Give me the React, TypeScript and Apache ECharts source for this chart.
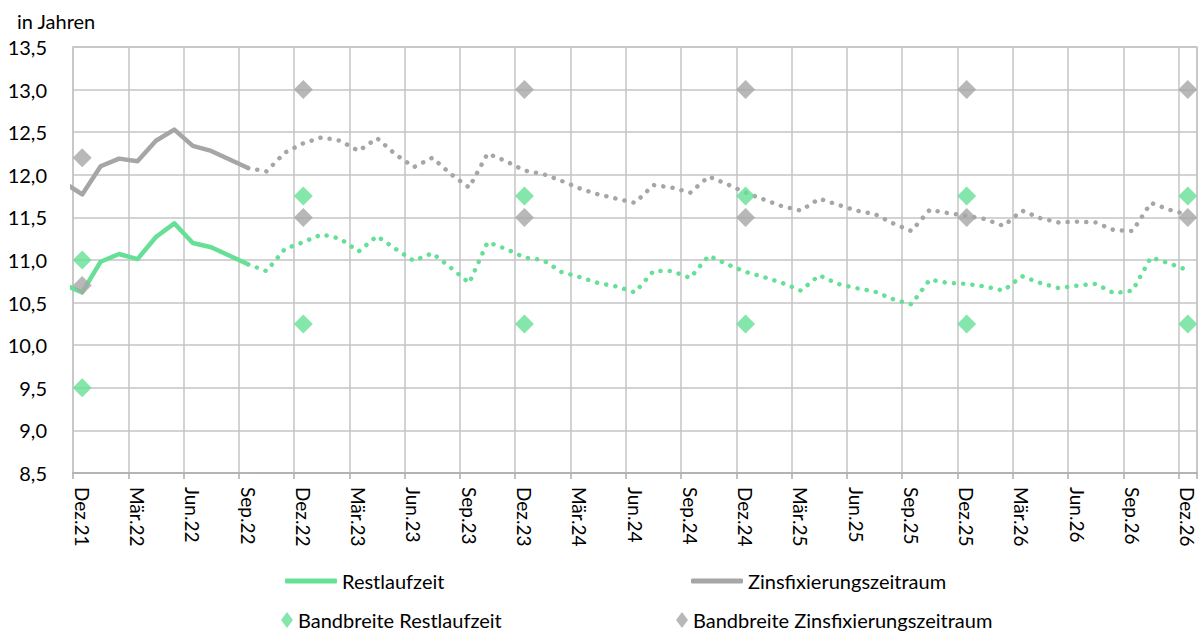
import React, { useEffect, useRef } from "react";
import * as echarts from "echarts";

// Month names used to build the category labels (Dez.21 … Dez.26)
const monthNames = ["Jan", "Feb", "Mär", "Apr", "Mai", "Jun", "Jul", "Aug", "Sep", "Okt", "Nov", "Dez"];
const startYear = 21;
const startMonth = 11; // Dez
const monthCount = 61;

// Restlaufzeit, actual: Nov.21 … Sep.22 (month index -1 … 9)
const restActual = [10.71, 10.62, 10.98, 11.07, 11.01, 11.27, 11.43, 11.2, 11.15, 11.05, 10.95];
// Restlaufzeit, projection: Sep.22 … Dez.26 (month index 9 … 60)
const restForecast = [
  10.95, 10.87, 11.13, 11.21, 11.3, 11.25, 11.1, 11.28, 11.13, 10.99, 11.08, 10.91, 10.73,
  11.21, 11.13, 11.03, 11.0, 10.86, 10.8, 10.73, 10.69, 10.62, 10.87, 10.87, 10.79, 11.05,
  10.95, 10.86, 10.8, 10.73, 10.64, 10.82, 10.72, 10.67, 10.63, 10.54, 10.48, 10.77, 10.73,
  10.72, 10.69, 10.64, 10.81, 10.73, 10.67, 10.7, 10.72, 10.61, 10.64, 11.03, 10.96, 10.88,
];

// Zinsfixierungszeitraum, actual: Nov.21 … Sep.22
const zinsActual = [11.91, 11.77, 12.1, 12.19, 12.16, 12.4, 12.53, 12.34, 12.28, 12.18, 12.08];
// Zinsfixierungszeitraum, projection: Sep.22 … Dez.26
const zinsForecast = [
  12.08, 12.04, 12.26, 12.37, 12.44, 12.4, 12.28, 12.43, 12.24, 12.09, 12.2, 12.01, 11.85,
  12.25, 12.16, 12.05, 12.01, 11.93, 11.84, 11.77, 11.72, 11.67, 11.88, 11.85, 11.79, 11.98,
  11.89, 11.79, 11.71, 11.63, 11.58, 11.72, 11.65, 11.58, 11.54, 11.43, 11.34, 11.59, 11.55,
  11.52, 11.48, 11.4, 11.58, 11.49, 11.44, 11.45, 11.44, 11.35, 11.34, 11.67, 11.59, 11.53,
];

// Bandbreiten (diamonds) at Dez. of each year
const bandMonths = [0, 12, 24, 36, 48, 60];
const bandRestHigh = [11.0, 11.75, 11.75, 11.75, 11.75, 11.75];
const bandRestLow = [9.5, 10.25, 10.25, 10.25, 10.25, 10.25];
const bandZinsHigh = [12.2, 13.0, 13.0, 13.0, 13.0, 13.0];
const bandZinsLow = [10.7, 11.5, 11.5, 11.5, 11.5, 11.5];

const GREEN = "#66E096";
const GRAY = "#A6A6A6";
const GRID = "#C4C4C4";
const FONT = "Lato";

export default function App() {
  const ref = useRef<HTMLDivElement>(null);

  useEffect(() => {
    if (!ref.current) return;
    const chart = echarts.init(ref.current, undefined, { renderer: "svg" });

    const categories: string[] = [];
    for (let i = 0; i < monthCount; i++) {
      const m = (startMonth + i) % 12;
      const y = startYear + Math.floor((startMonth + i) / 12);
      categories.push(`${monthNames[m]}.${y}`);
    }

    const actualPairs = (arr: number[]) => arr.map((v, k) => [k - 1, v]);
    const forecastPairs = (arr: number[]) => arr.map((v, k) => [k + 9, v]);
    const bandPairs = (hi: number[], lo: number[]) => [
      ...bandMonths.map((m, k) => [m, hi[k]]),
      ...bandMonths.map((m, k) => [m, lo[k]]),
    ];

    const dotted = (color: string) => ({
      color,
      width: 4.5,
      type: [0.1, 9.2] as any,
      cap: "round" as const,
      join: "round" as const,
    });

    const legendText = { fontFamily: FONT, fontSize: 20, color: "#000" };

    chart.setOption({
      animation: false,
      textStyle: { fontFamily: FONT },
      title: {
        text: "in Jahren",
        left: 12,
        top: 6,
        textStyle: { fontFamily: FONT, fontSize: 20, fontWeight: "normal", color: "#000" },
      },
      grid: {
        left: 73,
        top: 47,
        width: 1124,
        height: 426,
        show: true,
        borderColor: GRID,
        borderWidth: 1.5,
      },
      legend: [
        {
          data: [{ name: "Restlaufzeit", icon: "roundRect" }],
          left: 280,
          top: 566,
          itemWidth: 52,
          itemHeight: 5,
          textStyle: legendText,
        },
        {
          data: [{ name: "Zinsfixierungszeitraum", icon: "roundRect" }],
          left: 686,
          top: 566,
          itemWidth: 52,
          itemHeight: 5,
          textStyle: legendText,
        },
        {
          data: [{ name: "Bandbreite Restlaufzeit", icon: "diamond" }],
          left: 276,
          top: 605,
          itemWidth: 12,
          itemHeight: 16,
          textStyle: legendText,
        },
        {
          data: [{ name: "Bandbreite Zinsfixierungszeitraum", icon: "diamond" }],
          left: 671,
          top: 605,
          itemWidth: 12,
          itemHeight: 16,
          textStyle: legendText,
        },
      ],
      xAxis: [
        {
          type: "category",
          data: categories,
          boundaryGap: true,
          axisLine: { show: true, lineStyle: { color: "#ADADAD", width: 1.5 } },
          axisTick: { show: true, interval: 2, length: 6, lineStyle: { color: "#ADADAD", width: 1.5 } },
          splitLine: { show: true, interval: 2, lineStyle: { color: GRID, width: 1.5 } },
          axisLabel: {
            interval: 2,
            rotate: -90,
            margin: 14,
            fontFamily: FONT,
            fontSize: 19,
            color: "#000",
          },
        },
        {
          type: "value",
          min: -0.5,
          max: 60.5,
          show: false,
          splitLine: { show: false },
        },
      ],
      yAxis: {
        type: "value",
        min: 8.5,
        max: 13.5,
        interval: 0.5,
        axisLine: { show: false },
        axisTick: { show: false },
        splitLine: { show: true, lineStyle: { color: GRID, width: 1.5 } },
        axisLabel: {
          margin: 26,
          fontFamily: FONT,
          fontSize: 20,
          color: "#000",
          formatter: (v: number) => v.toFixed(1).replace(".", ","),
        },
      },
      series: [
        {
          name: "Restlaufzeit",
          type: "line",
          xAxisIndex: 1,
          data: actualPairs(restActual),
          showSymbol: false,
          color: GREEN,
          lineStyle: { color: GREEN, width: 4.5, cap: "round", join: "round" },
          z: 3,
        },
        {
          name: "Restlaufzeit Prognose",
          type: "line",
          xAxisIndex: 1,
          data: forecastPairs(restForecast),
          showSymbol: false,
          color: GREEN,
          lineStyle: dotted(GREEN),
          z: 3,
        },
        {
          name: "Zinsfixierungszeitraum",
          type: "line",
          xAxisIndex: 1,
          data: actualPairs(zinsActual),
          showSymbol: false,
          color: GRAY,
          lineStyle: { color: GRAY, width: 4.5, cap: "round", join: "round" },
          z: 2,
        },
        {
          name: "Zinsfixierungszeitraum Prognose",
          type: "line",
          xAxisIndex: 1,
          data: forecastPairs(zinsForecast),
          showSymbol: false,
          color: GRAY,
          lineStyle: dotted(GRAY),
          z: 2,
        },
        {
          name: "Bandbreite Restlaufzeit",
          type: "scatter",
          xAxisIndex: 1,
          symbol: "diamond",
          symbolSize: 19,
          color: GREEN,
          itemStyle: { color: GREEN },
          data: bandPairs(bandRestHigh, bandRestLow),
          z: 5,
        },
        {
          name: "Bandbreite Zinsfixierungszeitraum",
          type: "scatter",
          xAxisIndex: 1,
          symbol: "diamond",
          symbolSize: 19,
          color: GRAY,
          itemStyle: { color: GRAY },
          data: bandPairs(bandZinsHigh, bandZinsLow),
          z: 5,
        },
      ],
    });

    return () => chart.dispose();
  }, []);

  return (
    <div
      ref={ref}
      style={{ position: "fixed", left: 0, top: 0, width: 1200, height: 632, background: "#fff" }}
    />
  );
}
